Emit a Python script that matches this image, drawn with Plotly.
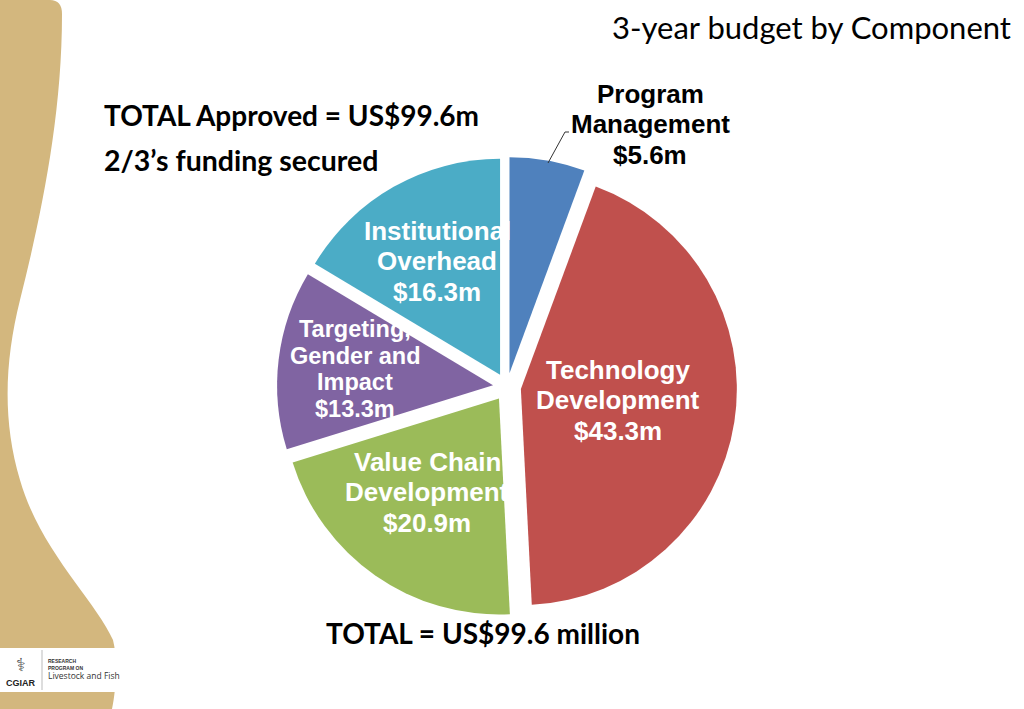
import plotly.graph_objects as go

# ---------------- data ----------------
categories = ["Program Management", "Technology Development", "Value Chain Development",
              "Targeting, Gender and Impact", "Institutional Overhead"]
label_lines = [["Program", "Management"], ["Technology", "Development"], ["Value Chain", "Development"],
               ["Targeting,", "Gender and", "Impact"], ["Institutional", "Overhead"]]
values = [5.6, 43.3, 20.9, 13.3, 16.3]
colors = ["#4F81BD", "#C0504D", "#9BBB59", "#8064A2", "#4BACC6"]
total_value = 99.6
title_text = "3-year budget by Component"
header_lines = ["TOTAL Approved = US$99.6m", "2/3\u2019s funding secured"]
footer_text = "TOTAL = US$99.6 million"

W, H = 1024, 709


def px(x):
    return x / W


def py(y):
    return 1 - y / H


def path_px(cmds):
    out = []
    for c in cmds:
        if isinstance(c, str):
            out.append(c)
        else:
            out.append(f"{px(c[0]):.5f},{py(c[1]):.5f}")
    return " ".join(out)


fig = go.Figure()

# pie geometry (pixels)
cx, cy, half = 507, 387, 230
fig.add_trace(go.Pie(
    labels=categories, values=values, sort=False, direction="clockwise", rotation=0,
    marker=dict(colors=colors, line=dict(width=0)),
    pull=[0.065] * len(values), textinfo="none", hoverinfo="label+value",
    showlegend=False,
    domain=dict(x=[px(cx - half), px(cx + half)], y=[py(cy + half), py(cy - half)]),
))

# background tan wave
tan_path = path_px(["M", (0, 0), "L", (50, 0), "Q", (62, 0), (62, 14),
                    "C", (62, 120), (40, 220), (20, 300),
                    "C", (5, 360), (2, 420), (20, 480),
                    "C", (40, 550), (95, 600), (113, 640),
                    "C", (118, 660), (116, 690), (112, 709),
                    "L", (0, 709), "Z"])
shapes = [
    dict(type="path", path=tan_path, xref="paper", yref="paper",
         fillcolor="#D3B77E", line=dict(width=0), layer="below"),
    # logo box
    dict(type="rect", xref="paper", yref="paper", x0=px(0), x1=px(122), y0=py(692), y1=py(648),
         fillcolor="white", line=dict(width=0), layer="above"),
    dict(type="line", xref="paper", yref="paper", x0=px(42), x1=px(42), y0=py(690), y1=py(650),
         line=dict(color="#BBBBBB", width=1)),
    # leader line
    dict(type="line", xref="paper", yref="paper", x0=px(569), x1=px(565), y0=py(132), y1=py(132),
         line=dict(color="#333333", width=1)),
    dict(type="line", xref="paper", yref="paper", x0=px(565), x1=px(548), y0=py(132), y1=py(163),
         line=dict(color="#333333", width=1)),
]

annotations = []
# slice labels: (center x, center y, font size, line spacing, colour)
lab_pos = [(650, 124, 26, 30.5, "black"), (618, 400, 26, 30.5, "white"), (427, 492, 26, 30.5, "white"),
           (355, 369, 23.5, 26.7, "white"), (437, 261, 26, 30.5, "white")]
for lines, v, (x, y, fs, ls, col) in zip(label_lines, values, lab_pos):
    all_lines = lines + [f"${v:.1f}m"]
    n = len(all_lines)
    for i, t in enumerate(all_lines):
        annotations.append(dict(
            x=px(x), y=py(y + (i - (n - 1) / 2) * ls), xref="paper", yref="paper", showarrow=False,
            text=t, xanchor="center", yanchor="middle",
            font=dict(family="Liberation Sans, Arial", size=fs, color=col, weight="bold"),
        ))

annotations += [
    dict(x=px(1013), y=py(27), xref="paper", yref="paper", showarrow=False, text=title_text,
         xanchor="right", yanchor="middle", font=dict(family="Lato", size=31, color="black")),
    dict(x=px(102), y=py(115), xref="paper", yref="paper", showarrow=False, text=header_lines[0],
         xanchor="left", yanchor="middle", font=dict(family="Lato", size=28, color="black", weight="bold")),
    dict(x=px(102), y=py(160), xref="paper", yref="paper", showarrow=False, text=header_lines[1],
         xanchor="left", yanchor="middle", font=dict(family="Lato", size=28.5, color="black", weight="bold")),
    dict(x=px(483), y=py(633), xref="paper", yref="paper", showarrow=False, text=footer_text,
         xanchor="center", yanchor="middle", font=dict(family="Lato", size=28, color="black", weight="bold")),
    # logo text
    dict(x=px(21), y=py(683), xref="paper", yref="paper", showarrow=False, text="CGIAR",
         xanchor="center", yanchor="middle", font=dict(family="Liberation Sans", size=9, color="#222222", weight="bold")),
    dict(x=px(21), y=py(664), xref="paper", yref="paper", showarrow=False, text="\u2695",
         xanchor="center", yanchor="middle", font=dict(family="DejaVu Sans", size=18, color="#555555")),
    dict(x=px(46), y=py(664), xref="paper", yref="paper", showarrow=False, text="RESEARCH<br>PROGRAM ON",
         xanchor="left", yanchor="middle", align="left",
         font=dict(family="Liberation Sans", size=5, color="#333333", weight="bold")),
    dict(x=px(46), y=py(675), xref="paper", yref="paper", showarrow=False, text="Livestock and Fish",
         xanchor="left", yanchor="middle", font=dict(family="Open Sans", size=8.5, color="#333333")),
]

fig.update_layout(
    width=W, height=H, margin=dict(l=0, r=0, t=0, b=0),
    paper_bgcolor="white", plot_bgcolor="white",
    shapes=shapes, annotations=annotations,
)

fig.write_html("out.html", config={"displayModeBar": False},
               post_script="document.body.style.margin='0';document.body.style.overflow='hidden';")
